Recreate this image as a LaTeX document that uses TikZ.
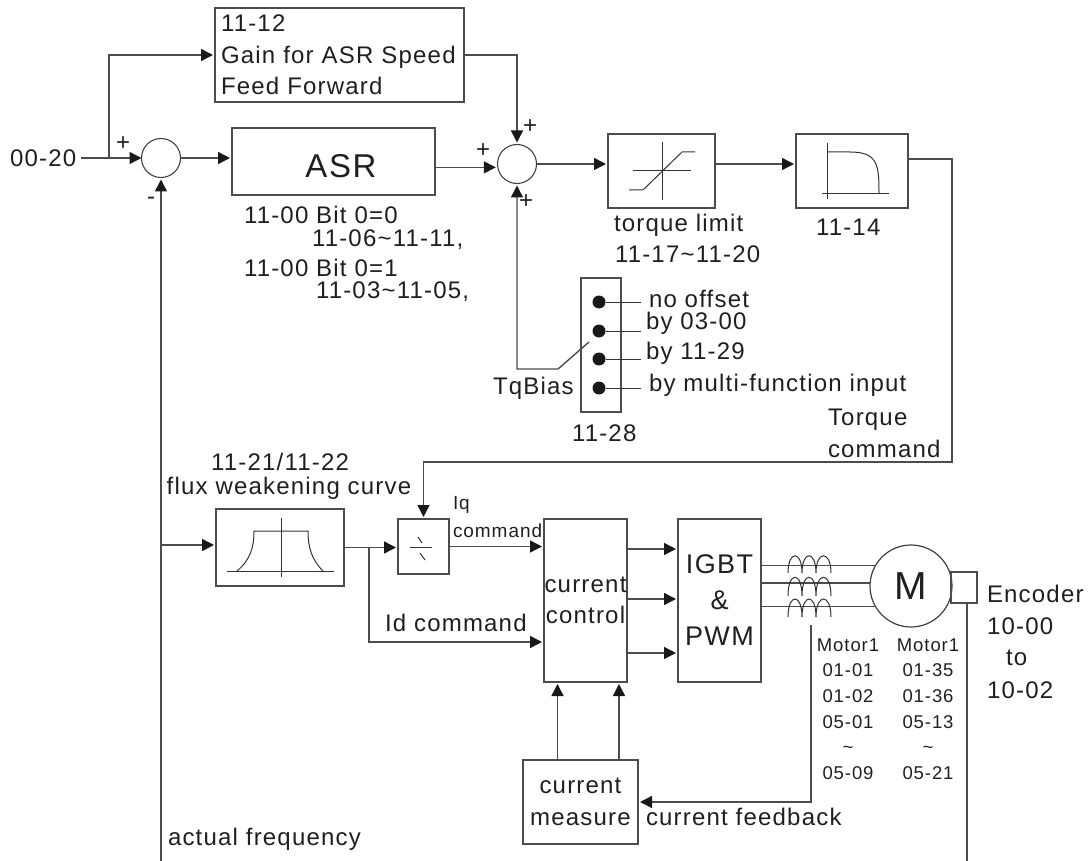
\documentclass[tikz,border=0pt]{standalone}
\usepackage{fontspec}
\setmainfont[LetterSpace=5]{Liberation Sans}
\usepackage{xcolor}
\usetikzlibrary{arrows.meta, positioning, calc}

\begin{document}
\begin{tikzpicture}[
    x=1pt, y=-1pt,
    every node/.style={inner sep=0pt, outer sep=0pt, text=black!88},
    lab/.style={anchor=west, font=\fontsize{24}{32}\selectfont},
    heading/.style={align=center, font=\fontsize{24}{32}\selectfont},
    smalllab/.style={anchor=west, font=\fontsize{19}{26}\selectfont},
    params/.style={align=center, font=\fontsize{18.5}{25.6}\selectfont},
    block/.style={draw=black!70, line width=1.3pt, align=center, font=\fontsize{24}{31.5}\selectfont},
    junction/.style={circle, draw=black!75, line width=1.1pt, minimum size=39pt},
    contact/.style={circle, fill=black!90, minimum size=13pt},
    wire/.style={draw=black!70, line width=1.4pt},
    sig/.style={wire, -{Triangle[length=12pt,width=12pt,black!90]}, shorten >=2pt},
    thinline/.style={draw=black!80, line width=1pt}
]
\useasboundingbox (0,0) rectangle (1090,861);

% Speed loop
\node[lab] (ref) at (10,158) {00-20};
\node[junction] (sum1) at (161,158) {};
\node[block, minimum width=249pt, minimum height=94pt, text width=237pt, align=left] (gain) at (339.5,55) {11-12\\Gain for ASR Speed\\Feed Forward};
\node[block, minimum width=203pt, minimum height=67pt] (asr) at (333.5,161.5) {};
\node[font=\fontsize{33}{33}\selectfont] (asrtext) at (341,166) {ASR};
\node[junction] (sum2) at (517,164) {};

\coordinate (tap) at (109,158);
\coordinate (fbk) at (161,861);
\draw[sig, shorten <=5pt, shorten >=0pt] (ref.east) -- (sum1.west);
\draw[sig] (tap) |- (gain.west);
\draw[sig] (sum1.east) -- (sum1.east -| asr.west);
\draw[sig] (asr.east |- sum2.190) -- (sum2.190);
\draw[sig] (gain.east) -| (sum2.north);
\draw[sig] (fbk) -- (sum1.south);

\node[lab] (plusa) at (116,144) {+};
\node[lab] (minus) at (147,201) {-};
\node[lab] (plusb) at (523,127) {+};
\node[lab] (plusc) at (476,151) {+};
\node[lab] (plusd) at (519,202) {+};

\node[lab] (bita) at (244,215) {11-00 Bit 0=0};
\node[lab] (rangea) at (312,240) {11-06\textasciitilde 11-11,};
\node[lab] (bitb) at (244,268) {11-00 Bit 0=1};
\node[lab] (rangeb) at (316,292) {11-03\textasciitilde 11-05,};

% Torque limit and curve
\node[block, minimum width=107pt, minimum height=74pt] (limit) at (661.5,171) {};
\node[block, minimum width=112pt, minimum height=74pt] (curve) at (852,171) {};
\draw[sig] (sum2.east) -- (sum2.east -| limit.west);
\draw[sig] (limit.east |- sum2) -- (curve.west |- sum2);

\draw[thinline] (662,142) -- (662,200);
\draw[thinline] (633,171) -- (691,171);
\draw[thinline] (629,190) -- (643,190) -- (682,152) -- (695,152);
\draw[thinline] (827,143) -- (827,199);
\draw[thinline] (822,194) -- (889,194);
\draw[thinline] (827,152) -- (850,152) .. controls (878,152) and (879,165) .. (879,194);

\node[lab] (limittext) at (614,225) {torque limit};
\node[lab] (limitpar) at (615,254) {11-17\textasciitilde 11-20};
\node[lab] (curvepar) at (816,227) {11-14};

% Bias selector
\node[block, minimum width=40pt, minimum height=134pt] (sel) at (601,345) {};
\node[contact] (dota) at (599,302) {};
\node[contact] (dotb) at (599,331) {};
\node[contact] (dotc) at (599,359) {};
\node[contact] (dotd) at (599,388) {};
\coordinate (stub) at (641,302);
\draw[thinline] (dota) -- (dota -| stub);
\draw[thinline] (dotb) -- (dotb -| stub);
\draw[thinline] (dotc) -- (dotc -| stub);
\draw[thinline] (dotd) -- (dotd -| stub);

\node[lab] (opta) at (649,299) {no offset};
\node[lab] (optb) at (646,323) {by 03-00};
\node[lab] (optc) at (646,353) {by 11-29};
\node[lab] (optd) at (649,385) {by multi-function input};
\node[lab] (bias) at (493,388) {TqBias};
\node[lab] (selpar) at (572,433) {11-28};
\node[lab, align=left] (torque) at (828,433) {Torque\\command};

\coordinate (wiper) at (589,342);
\coordinate (knee) at (558,369);
\draw[sig] (wiper) -- (knee) -| (sum2.south);

% Flux weakening
\node[heading] (fluxpar) at (280,462) {11-21/11-22};
\node[heading] (fluxtext) at (289,488) {flux weakening curve};
\node[block, minimum width=128pt, minimum height=77pt] (flux) at (280,547.5) {};
\node[block, minimum width=51pt, minimum height=55pt] (div) at (423.5,546.5) {};
\node[block, minimum width=83pt, minimum height=163pt] (ctrl) at (585.5,600.5) {current\\control};

\draw[thinline] (281,518) -- (281,577);
\draw[thinline] (227,571) -- (334,571);
\draw[thinline] (237,571) .. controls (250,560) and (254,548) .. (254,531) -- (308,531) .. controls (308,548) and (312,560) .. (323,571);
\draw[thinline] (410,547) -- (432,547);
\draw[thinline] (418,537) -- (422,543);
\draw[thinline] (420,553) -- (425,560);

\coordinate (fluxin) at (216,545);
\coordinate (split) at (369,547.5);
\coordinate (idin) at (544,642);
\coordinate (turna) at (952,159);
\coordinate (turnb) at (952,462);
\draw[sig] (fbk |- fluxin) -- (fluxin);
\draw[sig] (flux.east) -- (flux.east -| div.west);
\draw[sig] (split) |- (idin);
\draw[sig] (div.east) -- (div.east -| ctrl.west);
\draw[sig] (curve.east |- turna) -- (turna) -- (turnb) -| (div.north);

\node[smalllab] (iq) at (453,505) {Iq};
\node[smalllab] (iqtext) at (453,531) {command};
\node[lab] (idtext) at (385,623) {Id command};

% Inverter and motor
\node[block, minimum width=83pt, minimum height=163pt, font=\fontsize{27}{36}\selectfont] (igbt) at (719.5,600.5) {IGBT\\\&\\PWM};
\node[circle, draw=black!75, line width=1.2pt, minimum size=82pt, font=\fontsize{39}{39}\selectfont] (motor) at (911,586) {M};
\node[block, minimum width=26pt, minimum height=31pt] (enc) at (964,587.5) {};

\coordinate (pwma) at (678,549);
\coordinate (pwmb) at (678,599);
\coordinate (pwmc) at (678,653);
\draw[sig] (ctrl.east |- pwma) -- (pwma);
\draw[sig] (ctrl.east |- pwmb) -- (pwmb);
\draw[sig] (ctrl.east |- pwmc) -- (pwmc);
\draw[wire] (igbt.east |- motor.150) -- (motor.150);
\draw[wire] (igbt.east |- motor.176) -- (motor.176);
\draw[wire] (igbt.east |- motor.210) -- (motor.210);

\draw[thinline] (788,573) .. controls (788,550) and (802,550) .. (802,573) .. controls (802,550) and (816,550) .. (816,573) .. controls (816,550) and (831,550) .. (831,573);
\draw[thinline] (788,596) .. controls (788,571) and (802,571) .. (802,596) .. controls (802,571) and (816,571) .. (816,596) .. controls (816,571) and (831,571) .. (831,596);
\draw[thinline] (788,617) .. controls (788,593) and (802,593) .. (802,617) .. controls (802,593) and (816,593) .. (816,617) .. controls (816,593) and (831,593) .. (831,617);

\node[params] (motora) at (848,709) {Motor1\\01-01\\01-02\\05-01\\\textasciitilde\\05-09};
\node[params] (motorb) at (928,709) {Motor1\\01-35\\01-36\\05-13\\\textasciitilde\\05-21};
\node[lab] (enctext) at (987,594) {Encoder};
\node[lab] (encfrom) at (987,626) {10-00};
\node[lab] (encto) at (1006,658) {to};
\node[lab] (encend) at (987,690) {10-02};

\coordinate (encdown) at (967,861);
\draw[wire] (enc.south -| encdown) -- (encdown);

% Current feedback
\node[block, minimum width=115pt, minimum height=84pt] (meas) at (580.5,802) {current\\measure};
\coordinate (fba) at (557.5,682);
\coordinate (fbb) at (619,682);
\coordinate (tapf) at (811,625);
\draw[sig] (fba |- meas.north) -- (fba);
\draw[sig] (fbb |- meas.north) -- (fbb);
\draw[sig] (tapf) |- (meas.east);

\node[lab] (fbtext) at (646,817) {current feedback};
\node[lab] (freq) at (168,839) {actual frequency};

\end{tikzpicture}
\end{document}
